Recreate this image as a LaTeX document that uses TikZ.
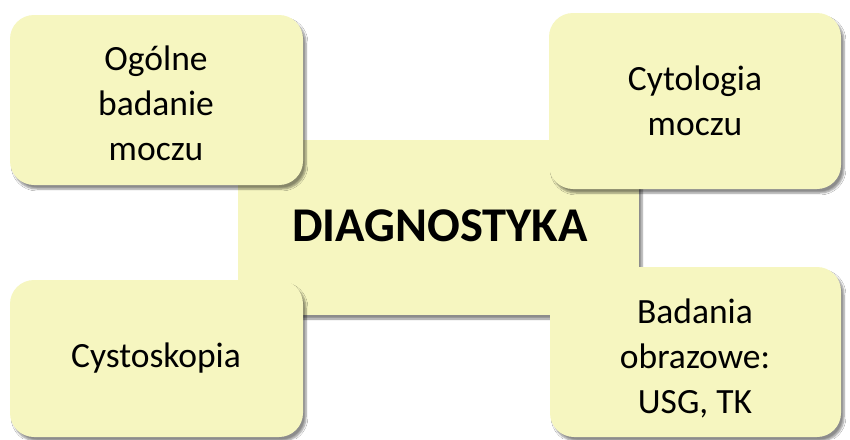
\documentclass[tikz,border=0pt]{standalone}
\usepackage{fontspec}
\setmainfont{Carlito}
\usetikzlibrary{shadows.blur}
\definecolor{boxfill}{HTML}{F6F6C0}
\tikzset{
  card/.style={fill=boxfill, draw=none, rounded corners=24pt,
    blur shadow={shadow xshift=3pt, shadow yshift=-4pt, shadow blur steps=6, shadow opacity=45}},
  center/.style={fill=boxfill, draw=none,
    blur shadow={shadow xshift=3pt, shadow yshift=-4pt, shadow blur steps=6, shadow opacity=45}},
  cardtext/.style={font=\fontsize{35.5}{45}\selectfont, align=center, text=black},
}
\begin{document}
\begin{tikzpicture}[x=1pt,y=-1pt]
\useasboundingbox (0,0) rectangle (850,439);
\fill[white] (0,0) rectangle (850,439);
% central box
\path[center] (238,140) rectangle (639,315);
\node[font=\fontsize{48.5}{58}\selectfont\bfseries] (diag) at (440,226) {DIAGNOSTYKA};
% corner boxes
\path[card] (10,15) rectangle (303,185);
\node[cardtext] (ogolne) at (156,103) {Ogólne\\badanie\\moczu};
\path[card] (549,13) rectangle (841,189);
\node[cardtext] (cyto) at (695,101) {Cytologia\\moczu};
\path[card] (10,280) rectangle (303,437);
\node[cardtext] (cysto) at (156,358) {Cystoskopia};
\path[card] (550,267) rectangle (841,437);
\node[cardtext] (bad) at (695,358) {Badania\\obrazowe:\\USG, TK};
\end{tikzpicture}
\end{document}
